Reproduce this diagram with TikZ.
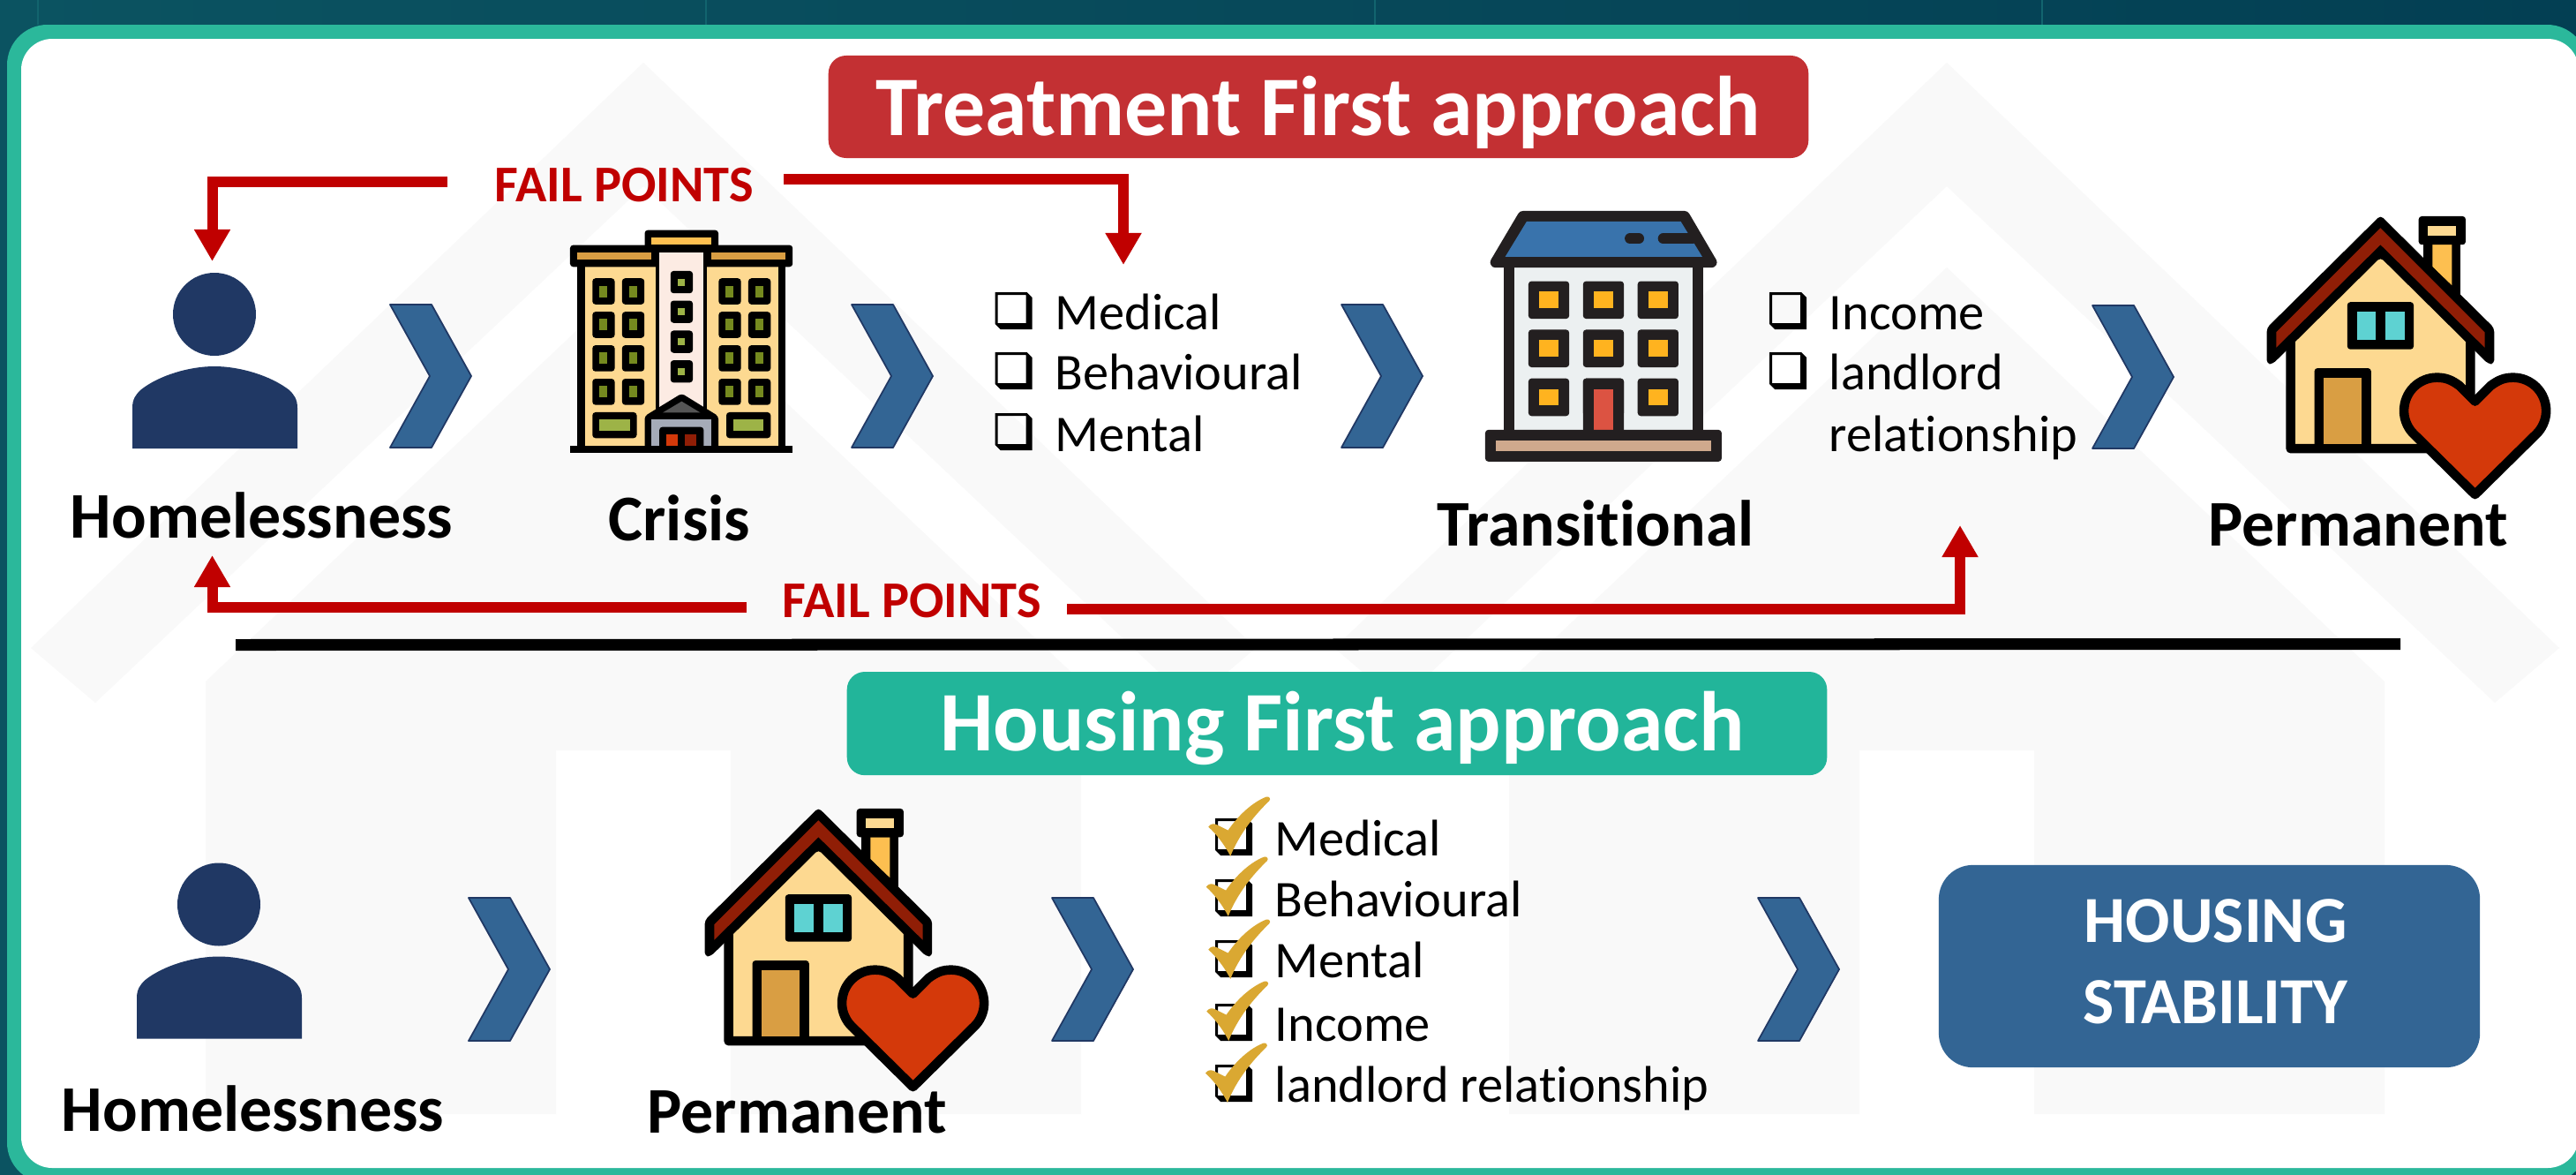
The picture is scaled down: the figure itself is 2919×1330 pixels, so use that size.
\documentclass[tikz,border=0pt]{standalone}
\usepackage{fontspec}
\setmainfont[Ligatures=NoCommon]{Carlito}
\usetikzlibrary{arrows.meta}
\definecolor{bgL}{HTML}{0B5361}
\definecolor{bgR}{HTML}{033F53}
\definecolor{gridc}{HTML}{12646E}
\definecolor{frameteal}{HTML}{2BB89B}
\definecolor{faint}{HTML}{F9F9F9}
\definecolor{redbox}{HTML}{C33033}
\definecolor{greenbox}{HTML}{22B59A}
\definecolor{failred}{HTML}{C00000}
\definecolor{navy}{HTML}{203864}
\definecolor{chevblue}{HTML}{336594}
\definecolor{wallc}{HTML}{FDD991}
\definecolor{ledge}{HTML}{D99E43}
\definecolor{gold}{HTML}{FDBF50}
\definecolor{pinkc}{HTML}{FCEBE3}
\definecolor{lgreen}{HTML}{9DB347}
\definecolor{dgreen}{HTML}{758A1F}
\definecolor{greyc}{HTML}{A5ABB8}
\definecolor{dgrey}{HTML}{555555}
\definecolor{orred}{HTML}{D4390A}
\definecolor{brownred}{HTML}{901E06}
\definecolor{tk}{HTML}{231F20}
\definecolor{roofblue}{HTML}{3973AC}
\definecolor{wallgrey}{HTML}{ECF0F1}
\definecolor{amber}{HTML}{FFB31F}
\definecolor{doorred}{HTML}{DC5342}
\definecolor{sand}{HTML}{CFA98D}
\definecolor{aqua}{HTML}{5ED2D2}
\definecolor{tickc}{HTML}{DAA832}
\tikzset{
  lbl/.style={anchor=base west,inner sep=0pt,font=\fontsize{21}{25}\selectfont\bfseries,text=black},
  itm/.style={anchor=base west,inner sep=0pt,font=\fontsize{16.6}{20}\selectfont,text=black},
  fail/.style={anchor=base west,inner sep=0pt,font=\fontsize{16.6}{20}\selectfont\bfseries,text=failred},
  titlebox/.style={anchor=base,inner sep=0pt,rounded corners=5.7pt,font=\fontsize{27.3}{32}\selectfont\bfseries,text=white},
  failarrow/.style={draw=failred,line width=3.41pt,-{Triangle[length=10.25pt,width=11pt]}},
  chev/.style={fill=chevblue,draw=navy,line width=0.5pt,line join=round},
  zoomscope/.style={x=0.0033333cm,y=-0.0033333cm},
}
\newcommand{\blk}[4]{\fill[black,rounded corners=1pt] (#1,#2) rectangle (#3,#4);}
\newcommand{\tkb}[4]{\fill[tk,rounded corners=1pt] (#1,#2) rectangle (#3,#4);}
\newcommand{\flr}[5]{\fill[#1] (#2,#3) rectangle (#4,#5);}
\newcommand{\personicon}[2]{\begin{scope}[shift={(#1,#2)}]
  \fill[navy] (243,356) circle[x radius=47,y radius=47];
  \fill[navy] (150,508) -- (150,462) .. controls (150,452) and (154,447) .. (159,442) .. controls (180,425) and (215,415) .. (243,415) .. controls (271,415) and (306,425) .. (328,442) .. controls (333,447) and (337,452) .. (337,462) -- (337,508) -- cycle;
\end{scope}}
\newcommand{\chevronat}[2]{\begin{scope}[shift={(#1,#2)}]
  \draw[chev] (0,0) -- (47,0) -- (92,81) -- (47,162) -- (0,162) -- (45,81) -- cycle;
\end{scope}}
\newcommand{\chkbox}[2]{\begin{scope}[shift={(#1,#2)}]
  \fill[black,even odd rule] (0,0) -- (36,0) -- (42,6) -- (42,42) -- (6,42) -- (0,36) -- cycle (3,3) rectangle (35,35);
\end{scope}}
\newcommand{\tickmark}[2]{\begin{scope}[shift={(#1,#2)},zoomscope]
  \fill[tickc] (88,140) .. controls (95,130) and (105,128) .. (115,132) -- (155,152) .. controls (190,100) and (240,55) .. (285,38) .. controls (295,35) and (302,45) .. (295,52) .. controls (250,95) and (195,160) .. (163,240) .. controls (145,205) and (120,170) .. (88,140) -- cycle;
\end{scope}}
\newcommand{\houseicon}[2]{\begin{scope}[shift={(#1,#2)},zoomscope]
  % chimney
  \fill[black] (620,150) rectangle (746,360);
  \fill[gold] (650,172) -- (716,172) -- (716,310) -- (650,247) -- cycle;
  \blk{603}{75}{763}{172}
  \flr{wallc}{634}{108}{731}{141}
  % wall
  \draw[fill=wallc,line width=3pt,line join=round] (167,490) -- (473,190) -- (779,490) -- (779,866) -- (167,866) -- cycle;
  % roof
  \fill[black,rounded corners=1.2pt] (473,72) -- (860,455) -- (860,578) -- (840,578) -- (473,215) -- (106,578) -- (86,578) -- (86,455) -- cycle;
  \fill[brownred] (473,115) -- (828,470) -- (828,522) -- (473,172) -- (118,522) -- (118,470) -- cycle;
  % window
  \blk{360}{367}{586}{528}
  \flr{aqua}{392}{399}{458}{496}
  \flr{aqua}{490}{399}{555}{496}
  % door
  \blk{248}{592}{441}{880}
  \flr{ledge}{280}{625}{410}{850}
  % heart
  \draw[fill=orred,line width=3pt,line join=round] (795,705) -- (742,652) .. controls (715,632) and (695,624) .. (665,624) .. controls (605,624) and (553,672) .. (553,738) .. controls (553,770) and (568,798) .. (585,815) -- (795,1022) -- (1005,815) .. controls (1022,798) and (1037,770) .. (1037,738) .. controls (1037,672) and (985,624) .. (925,624) .. controls (895,624) and (875,632) .. (848,652) -- cycle;
\end{scope}}
\begin{document}
\begin{tikzpicture}[x=0.01cm,y=-0.01cm]
\useasboundingbox (0,0) rectangle (2919,1330);
\clip (0,0) rectangle (2919,1330);
% backdrop
\shade[left color=bgL,right color=bgR] (0,0) rectangle (2919,1330);
\foreach \gx in {43,800,1558,2314}{\draw[gridc,line width=0.8pt] (\gx,0) -- (\gx,28);}
\fill[frameteal,rounded corners=13pt] (8,28) rectangle (2932,1340);
\fill[white,rounded corners=10pt] (24,44) rectangle (2922,1323);
% faint house watermark
\foreach \ax in {729,2206}{
  \fill[faint] (\ax,71) -- ({\ax+694},734) -- ({\ax+621},796) -- (\ax,211) -- ({\ax-621},796) -- ({\ax-694},734) -- cycle;
  \fill[faint] (\ax,303) -- ({\ax+496},772) -- ({\ax+496},1262) -- ({\ax+99},1262) -- ({\ax+99},850) -- ({\ax-99},850) -- ({\ax-99},1262) -- ({\ax-496},1262) -- ({\ax-496},772) -- cycle;
}
% headings
\node[titlebox,fill=redbox,minimum width=315.8pt,text height=25.6pt,text depth=7.4pt] (treatment) at (1494,153) {Treatment First approach};
\node[titlebox,fill=greenbox,minimum width=315.8pt,text height=25.3pt,text depth=8pt] (housing) at (1515,850) {\hspace*{3.2pt}Housing First approach};
% top row icons
\personicon{0}{0}
\chevronat{442}{345}
% crisis building
\begin{scope}[shift={(620,250)},zoomscope]
  \draw[fill=wallc,line width=2.4pt] (116,145) rectangle (800,778);
  \blk{78}{83}{836}{157}
  \flr{ledge}{103}{108}{356}{133}
  \flr{ledge}{558}{108}{812}{133}
  \blk{332}{32}{583}{100}
  \flr{gold}{356}{57}{558}{82}
  \fill[black] (370,90) rectangle (545,660);
  \flr{pinkc}{382}{108}{533}{650}
  \foreach \wy in {171,272,374,475}{
    \blk{420}{\wy}{496}{\wy+76}
    \flr{lgreen}{445}{\wy+26}{470}{\wy+51}
  }
  \foreach \wx in {154,255,584,685}{
    \foreach \wy in {196,310,424,538}{
      \blk{\wx}{\wy}{\wx+76}{\wy+89}
      \flr{dgreen}{\wx+24}{\wy+25}{\wx+51}{\wy+64}
    }
  }
  \blk{154}{652}{305}{740}
  \flr{lgreen}{178}{677}{281}{716}
  \blk{610}{652}{761}{740}
  \flr{lgreen}{634}{677}{737}{716}
  \fill[black,rounded corners=1pt] (332,665) -- (458,588) -- (583,665) -- (583,780) -- (332,780) -- cycle;
  \fill[dgrey] (394,653) -- (458,615) -- (521,653) -- cycle;
  \flr{greyc}{356}{677}{558}{778}
  \blk{382}{702}{533}{778}
  \flr{orred}{407}{727}{445}{766}
  \flr{brownred}{470}{727}{508}{766}
  \fill[black] (78,766) rectangle (836,790);
\end{scope}
\chevronat{965}{345}
\chkbox{1127.5}{331}
\chkbox{1127.5}{399}
\chkbox{1127.5}{468}
\node[itm] (t1) at (1195,373) {Medical};
\node[itm] (t2) at (1195,441) {Behavioural};
\node[itm] (t3) at (1195,511) {Mental};
\chevronat{1520}{345}
% transitional building
\begin{scope}[shift={(1660,220)},zoomscope]
  \fill[tk] (133,240) rectangle (811,810);
  \flr{wallgrey}{169}{250}{775}{802}
  \draw[tk,fill=tk,line width=3.4pt,line join=round] (197,75) -- (748,75) -- (840,232) -- (104,232) -- cycle;
  \fill[roofblue] (210,93) -- (735,93) -- (808,213) -- (137,213) -- cycle;
  \draw[tk,line width=3.4pt,line cap=round] (562,151) -- (592,151) (675,151) -- (775,151);
  \foreach \wx in {216,402,588}{
    \foreach \wy in {296,461,627}{
      \tkb{\wx}{\wy}{\wx+139}{\wy+128}
      \flr{amber}{\wx+36}{\wy+36}{\wx+103}{\wy+92}
    }
  }
  \tkb{402}{627}{541}{820}
  \flr{doorred}{438}{663}{506}{802}
  \tkb{69}{802}{874}{910}
  \flr{sand}{105}{838}{838}{875}
\end{scope}
\chkbox{2005}{331}
\chkbox{2005}{399}
\node[itm] (t4) at (2072,373) {Income};
\node[itm] (t5) at (2072,441) {landlord};
\node[itm] (t6) at (2072,511) {relationship};
\chevronat{2371}{346}
\houseicon{2540}{220}
% top row labels
\node[lbl] (homeless1) at (79,609) {Homelessness};
\node[lbl] (crisis) at (689,612) {Crisis};
\node[lbl] (transitional) at (1628,618) {Transitional};
\node[lbl] (permanent1) at (2502,618) {Permanent};
% fail points
\node[fail] (failA) at (560,228) {FAIL POINTS};
\node[fail] (failB) at (886,699) {FAIL POINTS};
\coordinate (fa1) at (507,206);
\coordinate (fa2) at (240.5,296);
\coordinate (fa3) at (888,203);
\coordinate (fa4) at (1273,300);
\coordinate (fb1) at (846,688);
\coordinate (fb2) at (240.5,629);
\coordinate (fb3) at (1209,690);
\coordinate (fb4) at (2221,595);
\draw[failarrow] (fa1) -| (fa2);
\draw[failarrow] (fa3) -| (fa4);
\draw[failarrow] (fb1) -| (fb2);
\draw[failarrow] (fb3) -| (fb4);
% divider
\coordinate (divL) at (267,730.5);
\coordinate (divR) at (2720,729.5);
\draw[black,line width=3.7pt] (divL) -- (divR);
% bottom row
\personicon{5}{668.5}
\chevronat{531}{1017}
\houseicon{770}{891}
\chevronat{1192}{1017}
\foreach \by in {927,996,1065,1137,1206}{\chkbox{1377}{\by}}
\tickmark{1340}{890}
\tickmark{1337.5}{958}
\tickmark{1340}{1029}
\tickmark{1338}{1099}
\tickmark{1336.7}{1169}
\node[itm] (b1) at (1444,969) {Medical};
\node[itm] (b2) at (1444,1038) {Behavioural};
\node[itm] (b3) at (1444,1107) {Mental};
\node[itm] (b4) at (1444,1179) {Income};
\node[itm] (b5) at (1444,1248) {landlord relationship};
\chevronat{1992}{1017}
\node[fill=chevblue,rounded corners=11pt,minimum width=174.4pt,minimum height=65.2pt,inner sep=0pt,align=center,text=white,font=\fontsize{21.2}{26}\selectfont\bfseries] (stability) at (2503.5,1094.5) {\hspace*{4pt}HOUSING\\\hspace*{4pt}STABILITY\rule[-3pt]{0pt}{3pt}};
\node[lbl] (homeless2) at (69,1281) {Homelessness};
\node[lbl] (permanent2) at (733,1283) {Permanent};
\end{tikzpicture}
\end{document}
